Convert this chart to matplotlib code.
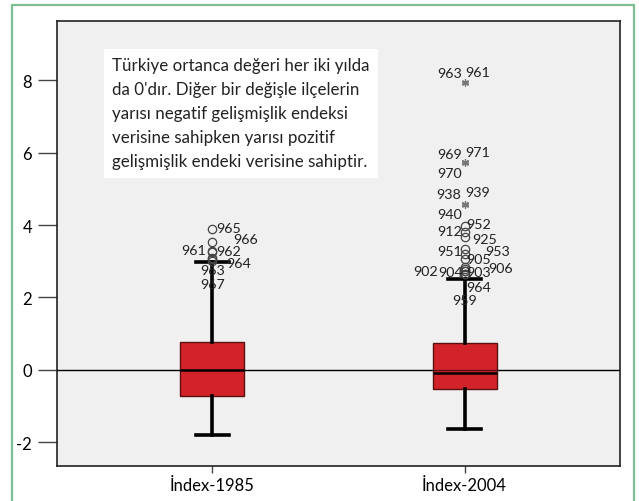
import matplotlib
matplotlib.use("Agg")
import matplotlib.pyplot as plt
from matplotlib.patches import Rectangle

plt.rcParams['font.family'] = ['Lato', 'DejaVu Sans']

# ---------------- data ----------------
groups = ['İndex-1985', 'İndex-2004']
q1 = [-0.72, -0.52]
med = [0.0, -0.08]
q3 = [0.77, 0.74]
whislo = [-1.79, -1.63]
whishi = [2.98, 2.51]

# outliers (circles) and extremes (asterisks), ids are district numbers
out85_ids = ['965', '966', '961', '962', '964', '963', '967']
out85_vals = [3.89, 3.53, 3.27, 3.25, 3.09, 3.05, 3.02]

out04_ids = ['952', '912', '925', '951', '953', '905', '906', '903', '904', '902', '964', '959']
out04_vals = [3.97, 3.81, 3.67, 3.34, 3.20, 3.06, 2.84, 2.79, 2.73, 2.72, 2.66, 2.64]

ext04_ids = ['963', '961', '969', '971', '970', '938', '939', '940']
ext04_vals = [7.95, 7.93, 5.74, 5.73, 5.72, 4.58, 4.57, 4.56]

note = ("Türkiye ortanca değeri her iki yılda\n"
        "da 0'dır. Diğer bir değişle ilçelerin\n"
        "yarısı negatif gelişmişlik endeksi\n"
        "verisine sahipken yarısı pozitif\n"
        "gelişmişlik endeki verisine sahiptir.")

# label offsets in pixels (dx, dy, ha) -- layout only
off85 = [(4, 1, 'left'), (21, 3, 'left'), (-6, 1, 'right'), (4, 1, 'left'),
         (14, -5, 'left'), (0, -11, 'center'), (0, -23, 'center')]
off04 = [(2, 2, 'left'), (-2, 1, 'right'), (8, -2, 'left'), (-2, -2, 'right'),
         (21, 3, 'left'), (2, 0, 'left'), (24, -1, 'left'), (2, -3, 'left'),
         (-2, -1, 'right'), (-27, 0, 'right'), (2, -13, 'left'), (0, -26, 'center')]
offext = [(-3, 9, 'right'), (1, 11, 'left'), (-3, 8, 'right'), (1, 10, 'left'),
          (-3, -10, 'right'), (-3, 10, 'right'), (1, 12, 'left'), (-3, -9, 'right')]

# ---------------- figure ----------------
fig = plt.figure(figsize=(6.39, 5.02), dpi=100)
fig.patches.append(Rectangle((12 / 639, -0.02), 622 / 639, 1.02 - 6 / 502,
                             transform=fig.transFigure, fill=False,
                             edgecolor='#7dbf93', linewidth=1.6))
ax = fig.add_axes([57 / 639, 35 / 502, 563 / 639, 445 / 502])
ax.set_facecolor('#f0f0f0')

stats = []
for i in range(2):
    stats.append(dict(med=med[i], q1=q1[i], q3=q3[i], whislo=whislo[i],
                      whishi=whishi[i], fliers=[], label=groups[i]))
ax.axhline(0, color='black', lw=0.9, zorder=1)
ax.bxp(stats, positions=[1, 2], widths=0.254, patch_artist=True, showfliers=False,
       boxprops=dict(facecolor='#d2232a', edgecolor='#5a1010', linewidth=1.0),
       medianprops=dict(color='black', linewidth=1.8),
       whiskerprops=dict(color='black', linewidth=2.6),
       capprops=dict(color='black', linewidth=2.6),
       capwidths=0.13, zorder=2)
ax.axhline(0, color='black', lw=0.9, zorder=3, alpha=0.6)

lab_kw = dict(textcoords='offset pixels', va='center', fontsize=10.3, color='#222222', zorder=5)

ax.plot([1] * len(out85_vals), out85_vals, 'o', mfc='none', mec='#444444', ms=6, mew=0.9, zorder=4)
for v, t, (dx, dy, ha) in zip(out85_vals, out85_ids, off85):
    ax.annotate(t, (1, v), xytext=(dx, dy), ha=ha, **lab_kw)

ax.plot([2] * len(out04_vals), out04_vals, 'o', mfc='none', mec='#444444', ms=6, mew=0.9, zorder=4)
for v, t, (dx, dy, ha) in zip(out04_vals, out04_ids, off04):
    ax.annotate(t, (2, v), xytext=(dx, dy), ha=ha, **lab_kw)

ax.plot([2] * len(ext04_vals), ext04_vals, marker=(6, 2, 0), ls='none', color='#777777',
        ms=5, mew=0.8, zorder=4)
for v, t, (dx, dy, ha) in zip(ext04_vals, ext04_ids, offext):
    ax.annotate(t, (2, v), xytext=(dx, dy), ha=ha, **lab_kw)

ax.text((112 - 57) / 563, (467 - 58) / 445, note, transform=ax.transAxes,
        fontsize=12.2, color='#222222', linespacing=1.62, va='top', ha='left',
        bbox=dict(facecolor='white', edgecolor='none', pad=6), zorder=6)

ax.set_xlim(0.383, 2.617)
ax.set_ylim(-2.65, 9.63)
ax.set_yticks([-2, 0, 2, 4, 6, 8])
ax.set_yticklabels(['-2', '0', '2', '4', '6', '8'])
ax.set_xticks([1, 2])
ax.set_xticklabels(groups)
ax.tick_params(axis='y', length=14, width=1.0, color='#444444', labelsize=12, pad=4)
ax.tick_params(axis='x', length=5, width=1.0, color='#444444', labelsize=12, pad=3)
for s in ax.spines.values():
    s.set_linewidth(1.2)
    s.set_color('#222222')

plt.savefig("out.png", dpi=100)
